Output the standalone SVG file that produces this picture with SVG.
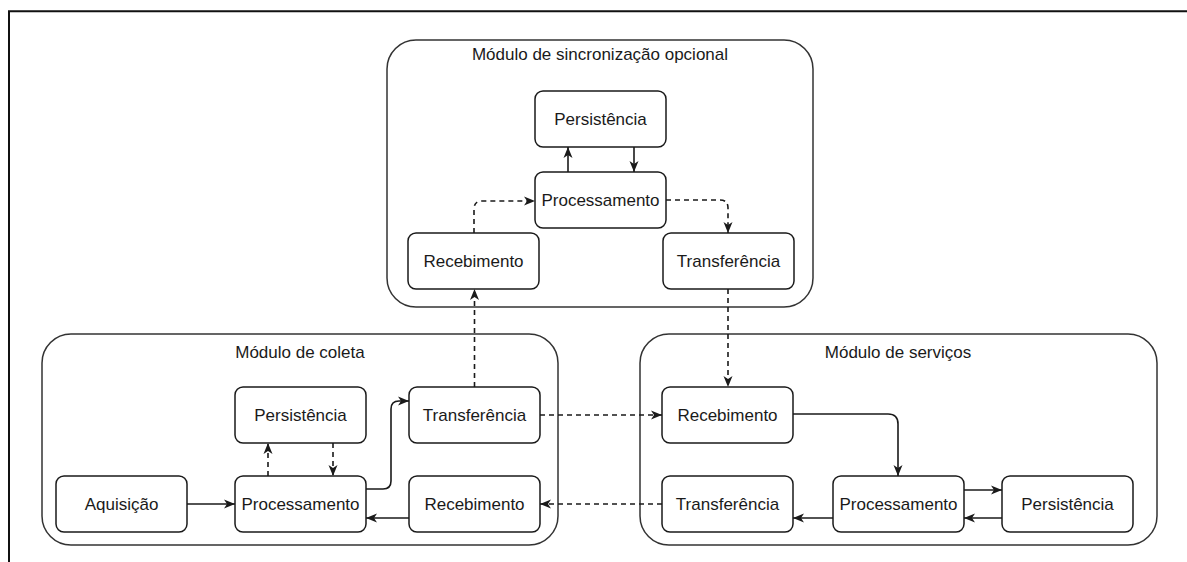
<svg xmlns="http://www.w3.org/2000/svg" width="1187" height="562" viewBox="0 0 1187 562">
  <style>
    .frame { fill: none; stroke: #111; stroke-width: 2; }
    .module { fill: #fff; stroke: #333; stroke-width: 1.5; }
    .box { fill: #fff; stroke: #1a1a1a; stroke-width: 1.5; }
    .label { font-family: "Liberation Sans", Arial, Helvetica, sans-serif; font-size: 17px; fill: #1a1a1a; text-anchor: middle; }
    .edge { fill: none; stroke: #1a1a1a; stroke-width: 1.6; }
    .solid { marker-end: url(#arrow); }
    .dashed { stroke-dasharray: 5 4; marker-end: url(#arrow); }
  </style>
  <defs>
    <marker id="arrow" markerUnits="userSpaceOnUse" markerWidth="12" markerHeight="10" viewBox="0 0 12 10" refX="11" refY="5" orient="auto">
      <path d="M0,0.5 L11,5 L0,9.5 L3,5 Z" fill="#1a1a1a"/>
    </marker>
  </defs>

  <rect width="1187" height="562" fill="#fff"/>

  <!-- page border -->
  <path class="frame" d="M9,562 V11.3 H1187"/>

  <!-- module containers -->
  <g id="modulo-sincronizacao">
    <rect class="module" x="387" y="40" width="426" height="267" rx="29"/>
    <text class="label" x="600" y="60">Módulo de sincronização opcional</text>
  </g>
  <g id="modulo-coleta">
    <rect class="module" x="42" y="334" width="516" height="211" rx="29"/>
    <text class="label" x="300" y="358">Módulo de coleta</text>
  </g>
  <g id="modulo-servicos">
    <rect class="module" x="640" y="334" width="517" height="211" rx="29"/>
    <text class="label" x="898" y="358">Módulo de serviços</text>
  </g>

  <!-- synchronization module nodes -->
  <g id="sinc-persistencia">
    <rect class="box" x="535" y="91" width="131" height="56" rx="8"/>
    <text class="label" x="600.5" y="125">Persistência</text>
  </g>
  <g id="sinc-processamento">
    <rect class="box" x="535" y="172" width="131" height="56" rx="8"/>
    <text class="label" x="600.5" y="206">Processamento</text>
  </g>
  <g id="sinc-recebimento">
    <rect class="box" x="408" y="233" width="131" height="56" rx="8"/>
    <text class="label" x="473.5" y="267">Recebimento</text>
  </g>
  <g id="sinc-transferencia">
    <rect class="box" x="663" y="233" width="131" height="56" rx="8"/>
    <text class="label" x="728.5" y="267">Transferência</text>
  </g>

  <!-- collection module nodes -->
  <g id="col-aquisicao">
    <rect class="box" x="56" y="476" width="131" height="56" rx="8"/>
    <text class="label" x="121.5" y="510">Aquisição</text>
  </g>
  <g id="col-processamento">
    <rect class="box" x="235" y="476" width="131" height="56" rx="8"/>
    <text class="label" x="300.5" y="510">Processamento</text>
  </g>
  <g id="col-persistencia">
    <rect class="box" x="235" y="387" width="131" height="56" rx="8"/>
    <text class="label" x="300.5" y="421">Persistência</text>
  </g>
  <g id="col-transferencia">
    <rect class="box" x="409" y="387" width="131" height="56" rx="8"/>
    <text class="label" x="474.5" y="421">Transferência</text>
  </g>
  <g id="col-recebimento">
    <rect class="box" x="409" y="476" width="131" height="56" rx="8"/>
    <text class="label" x="474.5" y="510">Recebimento</text>
  </g>

  <!-- services module nodes -->
  <g id="srv-recebimento">
    <rect class="box" x="662" y="387" width="131" height="56" rx="8"/>
    <text class="label" x="727.5" y="421">Recebimento</text>
  </g>
  <g id="srv-transferencia">
    <rect class="box" x="662" y="476" width="131" height="56" rx="8"/>
    <text class="label" x="727.5" y="510">Transferência</text>
  </g>
  <g id="srv-processamento">
    <rect class="box" x="833" y="476" width="131" height="56" rx="8"/>
    <text class="label" x="898.5" y="510">Processamento</text>
  </g>
  <g id="srv-persistencia">
    <rect class="box" x="1002" y="476" width="131" height="56" rx="8"/>
    <text class="label" x="1067.5" y="510">Persistência</text>
  </g>

  <!-- connectors -->
  <g id="connectors">
    <!-- synchronization module -->
    <path class="edge solid" d="M568,172 V147"/>
    <path class="edge solid" d="M634,147 V172"/>
    <path class="edge dashed" d="M474,233 V209 Q474,201 482,201 H535"/>
    <path class="edge dashed" d="M666,200 H720 Q728,200 728,208 V233"/>
    <!-- between modules -->
    <path class="edge dashed" d="M474.5,387 V289"/>
    <path class="edge dashed" d="M728,289 V387"/>
    <path class="edge dashed" d="M540,415 H662"/>
    <path class="edge dashed" d="M662,504 H540"/>
    <!-- collection module -->
    <path class="edge solid" d="M187,504 H235"/>
    <path class="edge solid" d="M409,518 H366"/>
    <path class="edge solid" d="M366,489 H383 Q391,489 391,481 V409 Q391,401 399,401 H409"/>
    <path class="edge dashed" d="M268,476 V443"/>
    <path class="edge dashed" d="M333,443 V476"/>
    <!-- services module -->
    <path class="edge solid" d="M793,414 H888 Q898,414 898,424 V476"/>
    <path class="edge solid" d="M964,490 H1002"/>
    <path class="edge solid" d="M1002,518 H964"/>
    <path class="edge solid" d="M833,518 H793"/>
  </g>
</svg>
